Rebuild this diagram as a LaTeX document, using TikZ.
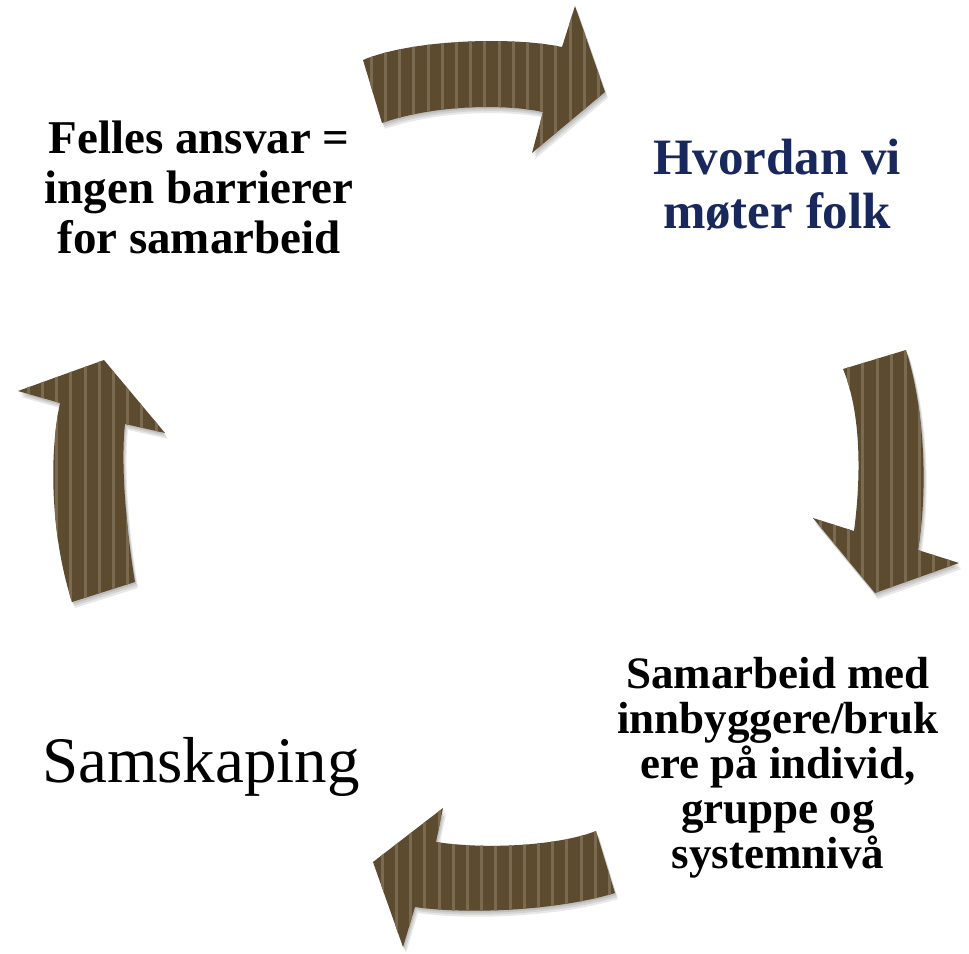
\documentclass[tikz,border=0pt]{standalone}
\usepackage{fontspec}
\setmainfont{Liberation Serif}
\definecolor{arrowbase}{RGB}{92,75,47}
\definecolor{arrowstripe}{RGB}{122,106,80}
\definecolor{navytext}{RGB}{24,40,92}
\tikzset{
  arrowfill/.style={fill=arrowbase},
  stripeline/.style={draw=arrowstripe, line width=3pt},
  shadowfill/.style={fill=black, opacity=0.09},
  lbl/.style={align=center, inner sep=0pt},
}
\def\arrowTop{(363,60) .. controls (410,40) and (510,36) .. (562,47) -- (575,6) -- (605,92) -- (532,153) -- (543,112) .. controls (500,103) and (430,106) .. (382,123) -- cycle}
\def\arrowRight{(906,350) .. controls (925,410) and (928,490) .. (918,550) -- (959,563) -- (875,593) -- (813,518) -- (854,531) .. controls (862,470) and (860,410) .. (843,369) -- cycle}
\def\arrowBottom{(615,893) .. controls (560,910) and (470,915) .. (415,907) -- (403,947) -- (373,862) -- (443,808) -- (436,842) .. controls (490,850) and (560,845) .. (596,831) -- cycle}
\def\arrowLeft{(135,582) .. controls (128,540) and (120,470) .. (125,424) -- (165,433) -- (104,360) -- (18,391) -- (60,403) .. controls (48,460) and (52,540) .. (72,602) -- cycle}
\begin{document}
\begin{tikzpicture}[x=1pt,y=-1pt]
\useasboundingbox[fill=white] (0,0) rectangle (969,953);
% shadows
\foreach \s in {1,2,3}{
  \fill[shadowfill, shift={(\s,2*\s)}] \arrowTop;
  \fill[shadowfill, shift={(\s,2*\s)}] \arrowRight;
  \fill[shadowfill, shift={(\s,2*\s)}] \arrowBottom;
  \fill[shadowfill, shift={(\s,2*\s)}] \arrowLeft;
}
% top arrow
\fill[arrowfill] \arrowTop;
\begin{scope}
  \clip \arrowTop;
  \foreach \xx in {357,371.2,...,620}{\draw[stripeline] (\xx,0) -- (\xx,170);}
\end{scope}
% right arrow
\fill[arrowfill] \arrowRight;
\begin{scope}
  \clip \arrowRight;
  \foreach \xx in {806,820.2,...,965}{\draw[stripeline] (\xx,340) -- (\xx,600);}
\end{scope}
% bottom arrow
\fill[arrowfill] \arrowBottom;
\begin{scope}
  \clip \arrowBottom;
  \foreach \xx in {368,382.2,...,620}{\draw[stripeline] (\xx,800) -- (\xx,953);}
\end{scope}
% left arrow
\fill[arrowfill] \arrowLeft;
\begin{scope}
  \clip \arrowLeft;
  \foreach \xx in {14,28.2,...,170}{\draw[stripeline] (\xx,350) -- (\xx,610);}
\end{scope}
% labels
\node[lbl, font=\bfseries\fontsize{47}{50}\selectfont] (felles) at (199,187) {Felles ansvar =\\ingen barrierer\\for samarbeid};
\node[lbl, font=\bfseries\fontsize{51}{54}\selectfont, text=navytext] (hvordan) at (777,185) {Hvordan vi\\møter folk};
\node[lbl, font=\bfseries\fontsize{45}{45}\selectfont] (samarbeid) at (778,768) {Samarbeid med\\innbyggere/bruk\\ere på individ,\\gruppe og\\systemnivå};
\node[lbl, font=\fontsize{65}{72}\selectfont] (samskaping) at (201,767) {Samskaping};
\end{tikzpicture}
\end{document}
